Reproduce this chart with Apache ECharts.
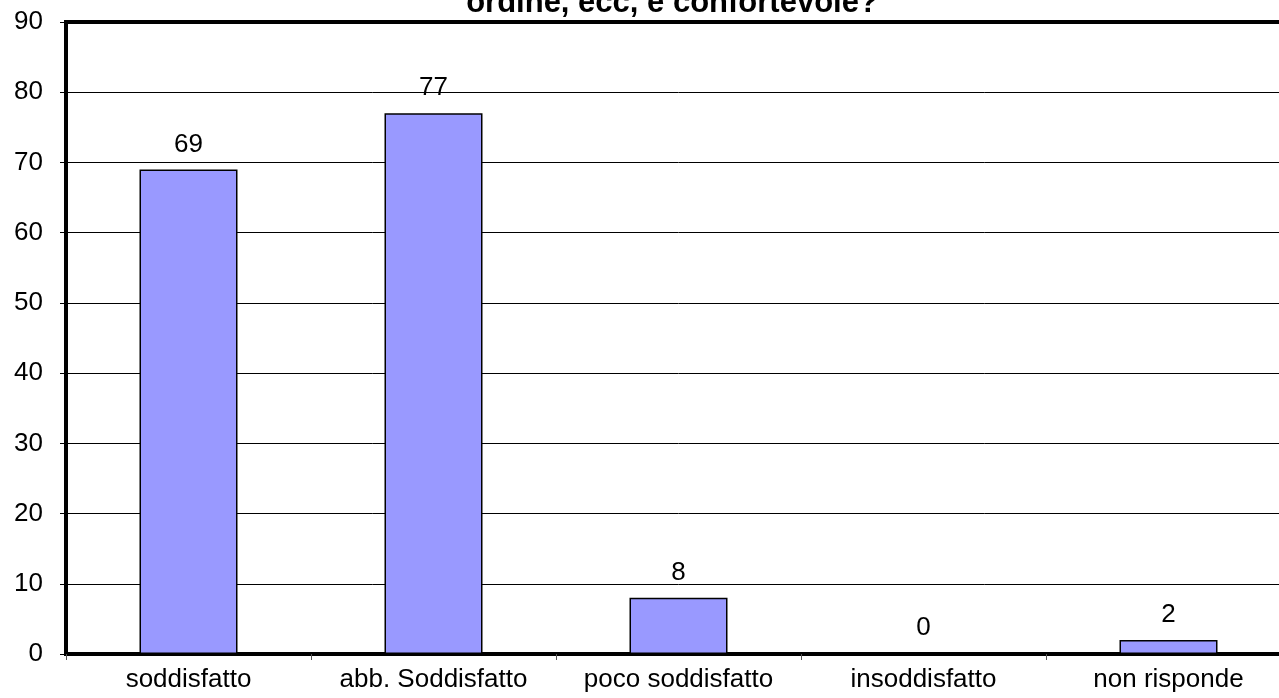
<!DOCTYPE html>
<html><head><meta charset="utf-8">
<script src="https://cdn.jsdelivr.net/npm/echarts@6/dist/echarts.min.js"></script>
<style>html,body{margin:0;padding:0;background:#fff;overflow:hidden;width:1279px;height:698px}#c{width:1300px;height:698px}</style>
</head><body><div id="c"></div>
<script>
const titleText = 'ordine, ecc, è confortevole?';
const categories = ['soddisfatto', 'abb. Soddisfatto', 'poco soddisfatto', 'insoddisfatto', 'non risponde'];
const values = [69, 77, 8, 0, 2];
const yTicks = [0, 10, 20, 30, 40, 50, 60, 70, 80, 90];

const chart = echarts.init(document.getElementById('c'), null, {renderer: 'canvas'});
chart.setOption({
  backgroundColor: '#fff',
  animation: false,
  title: {
    text: titleText,
    left: 667, top: -17,
    textAlign: 'center',
    textStyle: {fontFamily: 'Liberation Sans, Arial', fontWeight: 'bold', fontSize: 31, color: '#000'}
  },
  grid: {
    left: 66, right: 9, top: 22, bottom: 44,
    show: true, borderColor: '#000', borderWidth: 4, backgroundColor: 'transparent'
  },
  xAxis: {
    type: 'category',
    data: categories,
    axisLine: {show: true, lineStyle: {color: '#000', width: 4}},
    axisTick: {show: true, length: 6, lineStyle: {color: '#555', width: 1}},
    axisLabel: {interval: 0, fontFamily: 'Liberation Sans, Arial', fontSize: 26, color: '#000', margin: 13}
  },
  yAxis: {
    type: 'value',
    min: yTicks[0], max: yTicks[yTicks.length - 1], interval: 10,
    axisLine: {show: true, lineStyle: {color: '#000', width: 4}},
    axisTick: {show: true, length: 6, lineStyle: {color: '#000', width: 1}},
    axisLabel: {fontFamily: 'Liberation Sans, Arial', fontSize: 26, color: '#000', margin: 23},
    splitLine: {show: true, lineStyle: {color: '#000', width: 1}}
  },
  series: [{
    type: 'bar',
    data: values,
    barWidth: '40%',
    itemStyle: {color: '#9999FF', borderColor: '#000', borderWidth: 1.5},
    label: {show: true, position: 'top', distance: 12, fontFamily: 'Liberation Sans, Arial', fontSize: 26, color: '#000'}
  }]
});
</script></body></html>
